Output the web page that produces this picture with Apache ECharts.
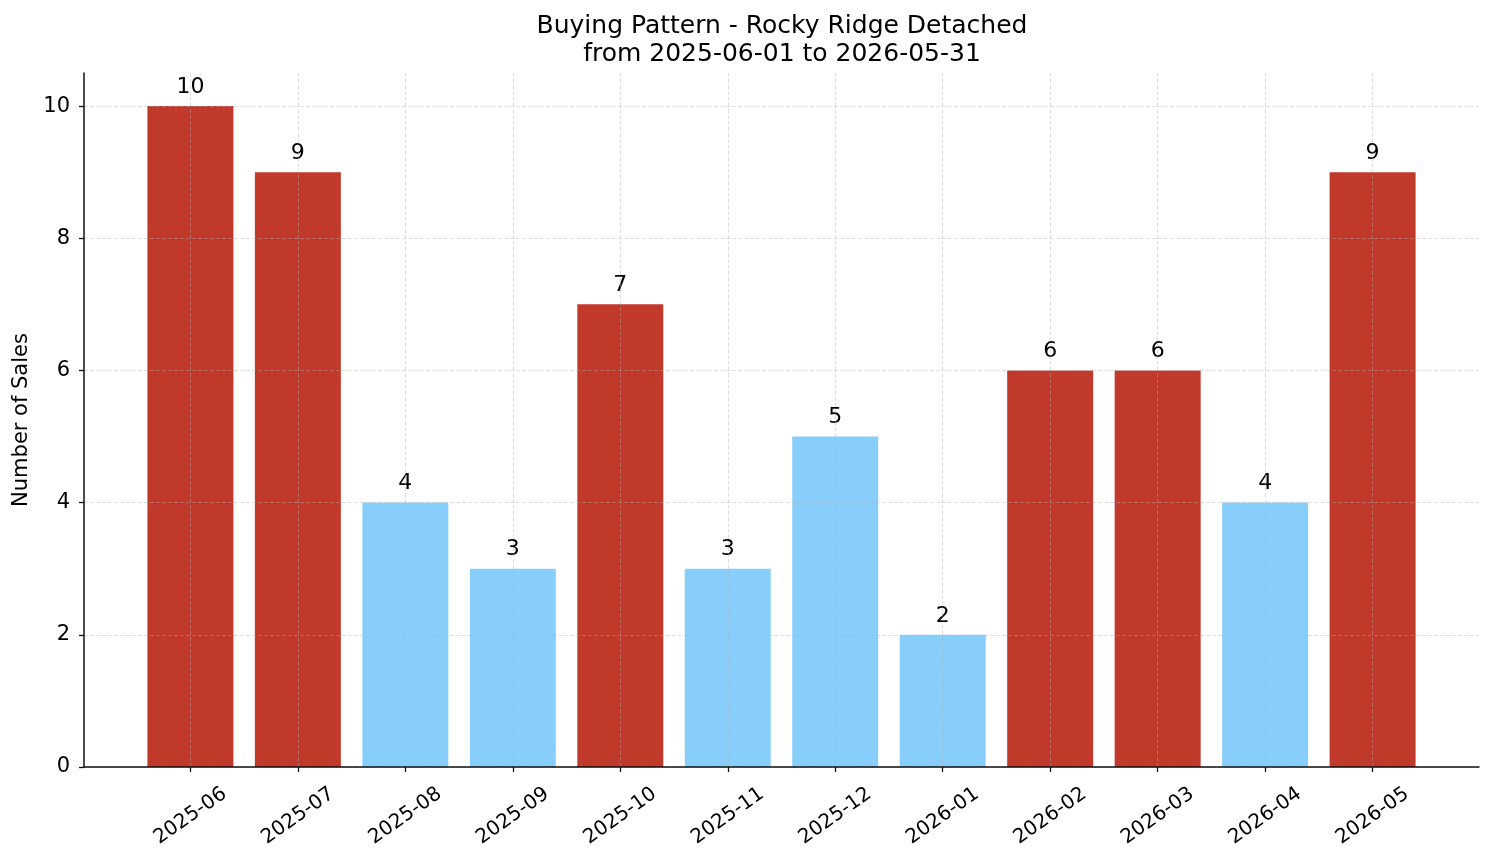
<!DOCTYPE html>
<html>
<head>
<meta charset="utf-8">
<script src="https://cdn.jsdelivr.net/npm/echarts@6/dist/echarts.min.js"></script>
<style>html,body{margin:0;padding:0;background:#fff}#c{width:1494px;height:863px}</style>
</head>
<body>
<div id="c"></div>
<script>
const months = ['2025-06','2025-07','2025-08','2025-09','2025-10','2025-11','2025-12','2026-01','2026-02','2026-03','2026-04','2026-05'];
const sales = [10, 9, 4, 3, 7, 3, 5, 2, 6, 6, 4, 9];
const yTicks = [0, 2, 4, 6, 8, 10];
const titleLines = ['Buying Pattern - Rocky Ridge Detached', 'from 2025-06-01 to 2026-05-31'];
const yName = 'Number of Sales';

const RED = '#c0392b', BLUE = '#87cefa';
const FONT = 'DejaVu Sans';
const idx = months.map((m, i) => i);

const chart = echarts.init(document.getElementById('c'), null, {renderer: 'canvas'});
const gridLine = {show: true, lineStyle: {color: 'rgba(176,176,176,0.5)', width: 0.8, type: [4, 2]}};
chart.setOption({
  animation: false,
  backgroundColor: '#fff',
  title: {
    text: titleLines.join('\n'),
    left: 777, textAlign: 'center', top: 7,
    textStyle: {fontFamily: FONT, fontSize: 25, fontWeight: 'normal', color: '#000', lineHeight: 28}
  },
  grid: {left: 84, right: 15, top: 73, bottom: 96, containLabel: false, outerBoundsMode: 'none'},
  xAxis: {
    type: 'value', min: -0.99, max: 11.99, z: 5,
    axisLine: {show: true, onZero: false, lineStyle: {color: '#111', width: 1.5}},
    axisTick: {show: true, customValues: idx, length: 5, lineStyle: {color: '#111', width: 1.3}},
    axisLabel: {
      customValues: idx, rotate: 35, align: 'center', verticalAlign: 'middle', margin: 49,
      fontFamily: FONT, fontSize: 20, color: '#000',
      formatter: v => months[Math.round(v)]
    },
    splitLine: gridLine
  },
  yAxis: {
    type: 'value', min: 0, max: 10.5, z: 5,
    name: yName, nameLocation: 'middle', nameGap: 48,
    nameTextStyle: {fontFamily: FONT, fontSize: 21, color: '#000'},
    axisLine: {show: true, onZero: false, lineStyle: {color: '#111', width: 1.5}},
    axisTick: {show: true, customValues: yTicks, length: 5, lineStyle: {color: '#111', width: 1.3}},
    axisLabel: {customValues: yTicks, margin: 14, fontFamily: FONT, fontSize: 21, color: '#000'},
    splitLine: gridLine
  },
  series: [{
    type: 'bar', barWidth: '80%', z: 2,
    data: sales.map((v, i) => ({value: [i, v], itemStyle: {color: v >= 6 ? RED : BLUE}})),
    label: {
      show: true, position: 'top', distance: 8,
      fontFamily: FONT, fontSize: 22, color: '#000',
      formatter: p => p.value[1]
    }
  }]
});
</script>
</body>
</html>
